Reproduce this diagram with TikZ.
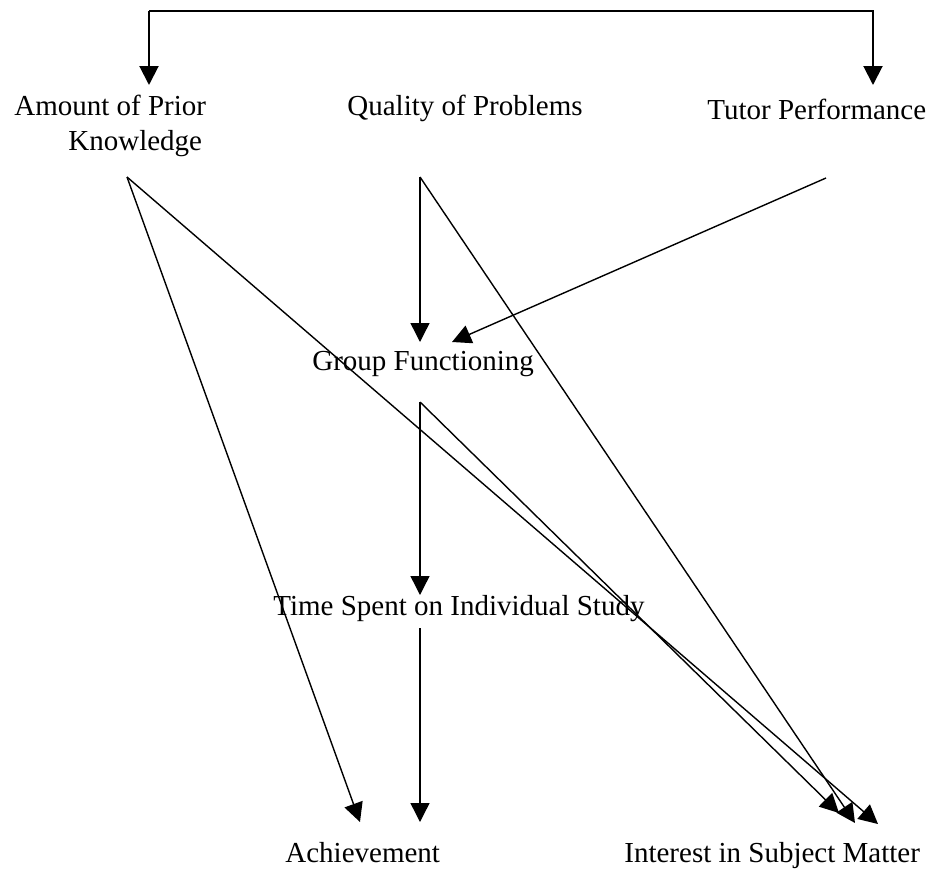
\documentclass[tikz,border=0pt]{standalone}
\usepackage{fontspec}
\setmainfont{Liberation Serif}
\usetikzlibrary{arrows.meta}

\tikzset{
  factor/.style={inner sep=0pt, anchor=base west, font=\fontsize{14.5}{18}\selectfont},
  link/.style={line width=0.7pt, -{Triangle[length=9.5pt,width=9.5pt]}},
}

\begin{document}
\begin{tikzpicture}[x=0.5pt,y=-0.5pt]
\useasboundingbox (0,0) rectangle (939,869);
% factors
\node[factor] (prior) at (14,115) {Amount of Prior};
\node[factor] (knowledge) at (68,150) {Knowledge};
\node[factor] (quality) at (347,115) {Quality of Problems};
\node[factor] (tutor) at (707,119) {Tutor Performance};
\node[factor] (group) at (312,370) {Group Functioning};
\node[factor] (time) at (273,615) {Time Spent on Individual Study};
\node[factor] (achieve) at (285,862) {Achievement};
\node[factor] (interest) at (624,862) {Interest in Subject Matter};
% ports
\coordinate (prior-out) at (127,177);
\coordinate (quality-out) at (420,177);
\coordinate (tutor-out) at (826,178);
\coordinate (group-in) at (420,342);
\coordinate (group-in2) at (452,342);
\coordinate (group-out) at (420,402);
\coordinate (time-in) at (420,595);
\coordinate (time-out) at (420,628);
\coordinate (achieve-in) at (360,822);
\coordinate (achieve-in2) at (420,822);
\coordinate (interest-in) at (839,813);
\coordinate (interest-in2) at (855,823);
\coordinate (interest-in3) at (878,824);
\coordinate (prior-in) at (149,85);
\coordinate (tutor-in) at (873,85);
% top bracket
\draw[link, line width=1pt] (prior-in |- 0,11) -- (tutor-in |- 0,11) -- (tutor-in);
\draw[link, line width=1pt] (prior-in |- 0,11) -- (prior-in);
% paths
\draw[link] (quality-out) -- (group-in);
\draw[link] (tutor-out) -- (group-in2);
\draw[link] (quality-out) -- (interest-in2);
\draw[link] (prior-out) -- (achieve-in);
\draw[link] (prior-out) -- (interest-in3);
\draw[link] (group-out) -- (time-in);
\draw[link] (group-out) -- (interest-in);
\draw[link] (time-out) -- (achieve-in2);
\end{tikzpicture}
\end{document}
